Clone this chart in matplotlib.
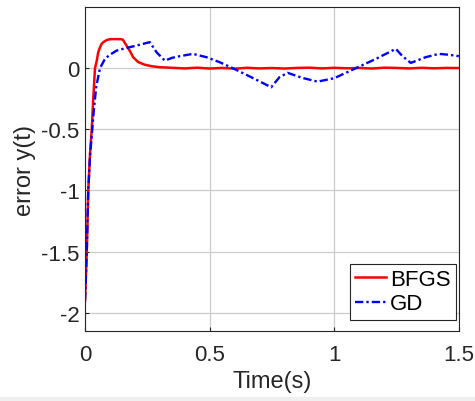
import matplotlib.pyplot as plt
from matplotlib.patches import Rectangle

plt.rcParams['font.family'] = ['Liberation Sans', 'DejaVu Sans']

# BFGS response
t_bfgs = [0, 0.007, 0.013, 0.02, 0.027, 0.033, 0.04, 0.047, 0.053, 0.06, 0.067,
          0.075, 0.087, 0.1, 0.12, 0.145, 0.152, 0.165, 0.18, 0.193, 0.213, 0.24,
          0.27, 0.3, 0.35, 0.4, 0.45, 0.5, 0.55, 0.6, 0.65, 0.7, 0.75, 0.8, 0.85,
          0.9, 0.95, 1.0, 1.05, 1.1, 1.15, 1.2, 1.25, 1.3, 1.35, 1.4, 1.45, 1.5]
y_bfgs = [-1.9, -1.5, -1.0, -0.7, -0.5, -0.25, 0.0, 0.06, 0.13, 0.17, 0.2,
          0.215, 0.23, 0.237, 0.238, 0.237, 0.232, 0.19, 0.14, 0.09, 0.05, 0.028,
          0.015, 0.008, 0.003, -0.002, 0.004, -0.003, 0.002, -0.004, 0.003, -0.002,
          0.001, -0.003, 0.002, 0.004, -0.002, 0.003, -0.001, 0.002, -0.003, 0.004,
          0.002, -0.002, 0.003, -0.001, 0.002, 0.001]

# GD response
t_gd = [0, 0.007, 0.013, 0.02, 0.027, 0.035, 0.045, 0.06, 0.08, 0.1, 0.127,
        0.153, 0.18, 0.207, 0.235, 0.26, 0.287, 0.32, 0.35, 0.38, 0.433, 0.487,
        0.54, 0.593, 0.673, 0.747, 0.78, 0.813, 0.873, 0.933, 1.0, 1.087, 1.167,
        1.247, 1.273, 1.307, 1.367, 1.42, 1.46, 1.5]
y_gd = [-1.9, -1.5, -1.0, -0.72, -0.55, -0.35, -0.15, 0.0, 0.076, 0.11, 0.144,
        0.158, 0.172, 0.185, 0.2, 0.213, 0.13, 0.062, 0.085, 0.098, 0.117, 0.09,
        0.049, 0.0, -0.08, -0.156, -0.074, -0.038, -0.08, -0.11, -0.082, 0.0, 0.076,
        0.158, 0.1, 0.043, 0.09, 0.117, 0.11, 0.098]

xticks = [0, 0.5, 1, 1.5]
xtick_labels = ['0', '0.5', '1', '1.5']
yticks = [-2, -1.5, -1, -0.5, 0]
ytick_labels = ['-2', '-1.5', '-1', '-0.5', '0']

fig = plt.figure(figsize=(4.75, 4.02), dpi=100)
ax = fig.add_axes([0.179, 0.174, 0.787, 0.806])

ax.plot(t_bfgs, y_bfgs, color='#ff0000', lw=1.8, label='BFGS')
ax.plot(t_gd, y_gd, color='#0000ff', lw=1.7, linestyle=(0, (3.5, 1.3, 1, 1.3)), label='GD')

ax.set_xlim(0, 1.5)
ax.set_ylim(-2.15, 0.5)
ax.set_xticks(xticks)
ax.set_xticklabels(xtick_labels)
ax.set_yticks(yticks)
ax.set_yticklabels(ytick_labels)
ax.tick_params(axis='both', direction='in', length=3, labelsize=16, colors='#262626')
ax.tick_params(axis='y', pad=4)
ax.tick_params(axis='x', pad=9)
ax.grid(True, color='#cccccc', lw=0.9)
for s in ax.spines.values():
    s.set_color('#262626')
    s.set_linewidth(0.8)

ax.set_xlabel('Time(s)', fontsize=17, color='#262626', labelpad=4)
ax.set_ylabel('error y(t)', fontsize=17, color='#262626', labelpad=4)

leg = ax.legend(loc='lower right', bbox_to_anchor=(0.992, 0.034), borderaxespad=0,
                fontsize=16, fancybox=False, framealpha=1, edgecolor='#262626',
                handlelength=1.4, handletextpad=0.15, borderpad=0.25,
                labelspacing=0.15)
leg.get_frame().set_linewidth(0.8)

fig.patches.append(Rectangle((0, 0), 1, 4 / 402, transform=fig.transFigure,
                             color='#f0f0f0', zorder=-1))

fig.savefig('out.png', dpi=100)
